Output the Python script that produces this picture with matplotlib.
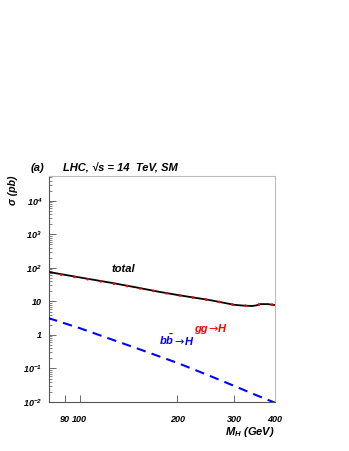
import matplotlib

matplotlib.use("Agg")
import matplotlib.pyplot as plt
from matplotlib.ticker import FixedLocator, FixedFormatter, NullFormatter

# ==========================================
# Data
# ==========================================
MH = [80, 100, 125, 150, 175, 200, 225, 250, 275, 300, 320, 340, 350, 360, 380, 400]
SIGMA_TOTAL = [76, 52, 36, 26, 19.5, 15.6, 13.0, 11.1, 9.3, 7.9, 7.5, 7.3, 7.6, 8.3, 8.3, 7.8]
SIGMA_GG = [73, 50.5, 35, 25.5, 19.2, 15.4, 12.9, 11.0, 9.25, 7.87, 7.48, 7.28, 7.58, 8.28, 8.28, 7.79]
MH_BB = [80, 100, 150, 200, 250, 300, 350, 400]
SIGMA_BB = [3.2, 1.6, 0.40, 0.147, 0.062, 0.030, 0.016, 0.0095]

XTICKS = [90, 100, 200, 300, 400]
XTICK_LABELS = ["90", "100", "200", "300", "400"]
YTICKS = [1e-2, 1e-1, 1, 10, 1e2, 1e3, 1e4]
YTICK_LABELS = [r"$10^{-2}$", r"$10^{-1}$", "1", "10", r"$10^{2}$", r"$10^{3}$", r"$10^{4}$"]

plt.rcParams["font.family"] = ["Liberation Sans", "DejaVu Sans"]
plt.rcParams["font.weight"] = "bold"
plt.rcParams["font.style"] = "italic"
plt.rcParams["mathtext.fontset"] = "custom"
plt.rcParams["mathtext.rm"] = "Liberation Sans:bold:italic"
plt.rcParams["mathtext.it"] = "Liberation Sans:bold:italic"
plt.rcParams["mathtext.bf"] = "Liberation Sans:bold:italic"
plt.rcParams["mathtext.default"] = "rm"

W, H = 349, 451
fig = plt.figure(figsize=(W / 100, H / 100), dpi=100)
ax = fig.add_axes([49 / W, 1 - 402 / H, 226 / W, 226 / H])


def px(x, y):
    # pixel position (from top-left) -> figure fraction
    return x / W, 1 - y / H


# curves
ax.plot(MH, SIGMA_TOTAL, color="black", lw=1.3, zorder=3)
ax.plot(MH, SIGMA_GG, color="red", lw=2.0, linestyle=(0, (0.01, 4.8)),
        dash_capstyle="round", zorder=4)
ax.plot(MH_BB, SIGMA_BB, color="blue", lw=1.5, linestyle=(0, (4.5, 3)), zorder=3)

ax.set_xscale("log")
ax.set_yscale("log")
ax.set_xlim(80.5, 400)
ax.set_ylim(1e-2, 5.5e4)

ax.xaxis.set_major_locator(FixedLocator(XTICKS))
ax.xaxis.set_major_formatter(FixedFormatter(XTICK_LABELS))
ax.xaxis.set_minor_formatter(NullFormatter())
ax.xaxis.set_minor_locator(FixedLocator([]))
ax.yaxis.set_major_locator(FixedLocator(YTICKS))
ax.yaxis.set_major_formatter(FixedFormatter(YTICK_LABELS))
ax.yaxis.set_minor_locator(FixedLocator(
    [m * 10.0 ** e for e in range(-2, 5) for m in range(2, 10)]))
ax.yaxis.set_minor_formatter(NullFormatter())

ax.tick_params(which="both", direction="in", top=False, right=False,
               color="#555555", labelsize=6.5, pad=5)
ax.tick_params(which="major", length=5, width=0.6)
ax.tick_params(which="minor", length=2.5, width=0.5)
ax.tick_params(axis="x", pad=9)
for side in ["left", "bottom"]:
    ax.spines[side].set_color("#555555")
    ax.spines[side].set_linewidth(0.8)
for side in ["top", "right"]:
    ax.spines[side].set_color("#bbbbbb")
    ax.spines[side].set_linewidth(0.8)

# labels
fig.text(*px(31, 168), "(a)", fontsize=8, ha="left", va="center")
fig.text(*px(63, 168), "LHC, \u221as = 14  TeV, SM", fontsize=8, ha="left", va="center")
fig.text(*px(13, 190), "\u03c3 (pb)", fontsize=7.5, rotation=90, ha="center", va="center")
fig.text(*px(275, 432), r"$M_H$ (GeV)", fontsize=8, ha="right", va="center")

ax.text(136, 93, "total", fontsize=8, ha="center", va="center")

# process labels: pieces laid out one after the other (DejaVu arrow is longer)
renderer = fig.canvas.get_renderer()
arrow_font = dict(family="DejaVu Sans", weight="normal", style="normal")


def process_label(x0, y0, pieces, color):
    x = x0
    for s, kw in pieces:
        t = fig.text(*px(x, y0), s, fontsize=8, color=color, va="baseline", **kw)
        x += t.get_window_extent(renderer).width + 0.5


process_label(194, 332, [("gg", {}), ("\u2192", arrow_font), ("H", {})], "red")
process_label(159, 345, [(r"$b\bar{b}$", {}), ("\u2192", arrow_font), ("H", {})], "blue")

fig.savefig("out.png", dpi=100)
